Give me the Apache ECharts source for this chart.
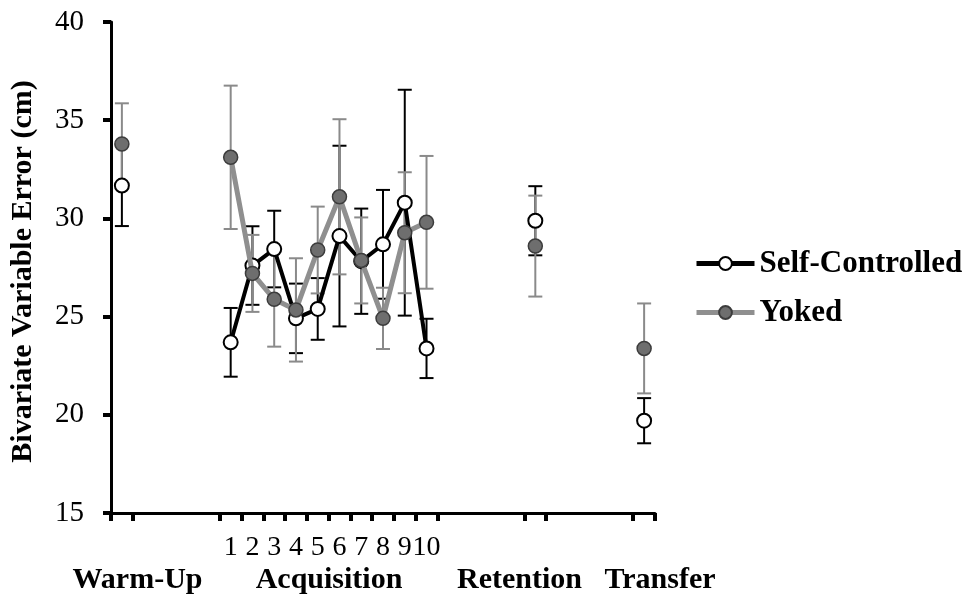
<!DOCTYPE html>
<html>
<head>
<meta charset="utf-8">
<script src="https://cdn.jsdelivr.net/npm/echarts@6/dist/echarts.min.js"></script>
<style>
  html, body { margin: 0; padding: 0; background: #fff; }
  #chart { width: 972px; height: 600px; }
</style>
</head>
<body>
<div id="chart"></div>
<script>
// ---- data ----
const acqLabels = ['1', '2', '3', '4', '5', '6', '7', '8', '9', '10'];
const phaseLabels = ['Warm-Up', 'Acquisition', 'Retention', 'Transfer'];

const selfAcq     = [23.69, 27.60, 28.44, 24.91, 25.39, 29.10, 27.82, 28.68, 30.80, 23.38];
const selfAcqSE   = [1.75, 2.00, 1.95, 1.77, 1.57, 4.60, 2.68, 2.77, 5.75, 1.51];
const yokedAcq    = [33.11, 27.20, 25.88, 25.34, 28.39, 31.10, 27.86, 24.91, 29.27, 29.80];
const yokedAcqSE  = [3.65, 1.96, 2.41, 2.63, 2.21, 3.95, 2.19, 1.56, 3.08, 3.38];

// warm-up, retention, transfer
const selfTests    = [31.67, 29.88, 19.70];
const selfTestsSE  = [2.06, 1.76, 1.15];
const yokedTests   = [33.79, 28.59, 23.38];
const yokedTestsSE = [2.07, 2.57, 2.29];

const yTicks = [15, 20, 25, 30, 35, 40];

// ---- slot layout on the category axis ----
const nSlots = 25;
const warmUpSlot = 0, acqStartSlot = 5, retentionSlot = 19, transferSlot = 24;
const testSlots = [warmUpSlot, retentionSlot, transferSlot];
const tickSlots = [0, 1, 5, 6, 7, 8, 9, 10, 11, 12, 13, 14, 15, 19, 20, 24];

const categories = new Array(nSlots).fill('');
acqLabels.forEach((l, i) => { categories[acqStartSlot + i] = l; });

function buildSeries(acq, tests) {
  const arr = new Array(nSlots).fill(null);
  acq.forEach((v, i) => { arr[acqStartSlot + i] = v; });
  tests.forEach((v, i) => { arr[testSlots[i]] = v; });
  return arr;
}
function buildErr(acq, acqSE, tests, testsSE) {
  const out = [];
  acq.forEach((v, i) => out.push([acqStartSlot + i, v - acqSE[i], v + acqSE[i]]));
  tests.forEach((v, i) => out.push([testSlots[i], v - testsSE[i], v + testsSE[i]]));
  return out;
}

const selfData = buildSeries(selfAcq, selfTests);
const yokedData = buildSeries(yokedAcq, yokedTests);
const selfErr = buildErr(selfAcq, selfAcqSE, selfTests, selfTestsSE);
const yokedErr = buildErr(yokedAcq, yokedAcqSE, yokedTests, yokedTestsSE);

const SERIF = '"Liberation Serif", "Times New Roman", "DejaVu Serif", serif';

function errorRender(color, width) {
  return function (params, api) {
    const x = api.value(0);
    const pLo = api.coord([x, api.value(1)]);
    const pHi = api.coord([x, api.value(2)]);
    const w = 7;
    const st = { stroke: color, lineWidth: width };
    return {
      type: 'group',
      children: [
        { type: 'line', shape: { x1: pLo[0], y1: pLo[1], x2: pHi[0], y2: pHi[1] }, style: st },
        { type: 'line', shape: { x1: pLo[0] - w, y1: pLo[1], x2: pLo[0] + w, y2: pLo[1] }, style: st },
        { type: 'line', shape: { x1: pHi[0] - w, y1: pHi[1], x2: pHi[0] + w, y2: pHi[1] }, style: st }
      ]
    };
  };
}

const chart = echarts.init(document.getElementById('chart'), null, { renderer: 'canvas' });

const phaseX = [137.5, 329, 519.5, 660];

chart.setOption({
  animation: false,
  backgroundColor: '#ffffff',
  grid: { left: 111, right: 317, top: 22, bottom: 87, containLabel: false, outerBoundsMode: 'none' },
  xAxis: {
    type: 'category',
    data: categories,
    boundaryGap: true,
    axisLine: { show: true, lineStyle: { color: '#000', width: 3 } },
    axisTick: {
      show: true,
      inside: false,
      length: 8,
      interval: function (index) { return tickSlots.indexOf(index) >= 0; },
      lineStyle: { color: '#000', width: 4 }
    },
    axisLabel: {
      interval: 0,
      margin: 21,
      color: '#000',
      fontFamily: SERIF,
      fontSize: 28
    },
    splitLine: { show: false }
  },
  yAxis: {
    type: 'value',
    min: yTicks[0],
    max: yTicks[yTicks.length - 1],
    interval: 5,
    axisLine: { show: true, lineStyle: { color: '#000', width: 3 } },
    axisTick: { show: true, inside: false, length: 8, lineStyle: { color: '#000', width: 4 } },
    axisLabel: { margin: 27, color: '#000', fontFamily: SERIF, fontSize: 29 },
    splitLine: { show: false }
  },
  legend: {
    orient: 'vertical',
    left: 694,
    top: 248,
    padding: 0,
    itemWidth: 58,
    itemHeight: 16,
    itemGap: 18,
    data: ['Self-Controlled', 'Yoked'],
    lineStyle: { width: 5 },
    textStyle: { fontFamily: SERIF, fontSize: 31, fontWeight: 'bold', color: '#000' }
  },
  graphic: [
    {
      type: 'text',
      x: 23.5, y: 271.5,
      rotation: Math.PI / 2,
      style: {
        text: 'Bivariate Variable Error (cm)',
        font: 'bold 30px ' + SERIF,
        fill: '#000',
        textAlign: 'center', textVerticalAlign: 'middle',
        align: 'center', verticalAlign: 'middle'
      }
    }
  ].concat(phaseLabels.map((t, i) => ({
    type: 'text',
    x: phaseX[i], y: 580,
    style: {
      text: t,
      font: 'bold 30px ' + SERIF,
      fill: '#000',
      textAlign: 'center', textVerticalAlign: 'middle',
      align: 'center', verticalAlign: 'middle'
    }
  }))),
  series: [
    {
      name: 'selfErr',
      type: 'custom',
      z: 1,
      renderItem: errorRender('#000000', 2),
      encode: { x: 0, y: [1, 2] },
      data: selfErr,
      silent: true
    },
    {
      name: 'yokedErr',
      type: 'custom',
      z: 1,
      renderItem: errorRender('#8a8a8a', 2),
      encode: { x: 0, y: [1, 2] },
      data: yokedErr,
      silent: true
    },
    {
      name: 'Self-Controlled',
      type: 'line',
      z: 3,
      data: selfData,
      connectNulls: false,
      showSymbol: true,
      symbol: 'circle',
      symbolSize: 14,
      lineStyle: { color: '#000', width: 4 },
      itemStyle: { color: '#ffffff', borderColor: '#000', borderWidth: 2 }
    },
    {
      name: 'Yoked',
      type: 'line',
      z: 4,
      data: yokedData,
      connectNulls: false,
      showSymbol: true,
      symbol: 'circle',
      symbolSize: 14,
      lineStyle: { color: '#8f8f8f', width: 5 },
      itemStyle: { color: '#6e6e6e', borderColor: '#3c3c3c', borderWidth: 1.5 }
    }
  ]
});
</script>
</body>
</html>
